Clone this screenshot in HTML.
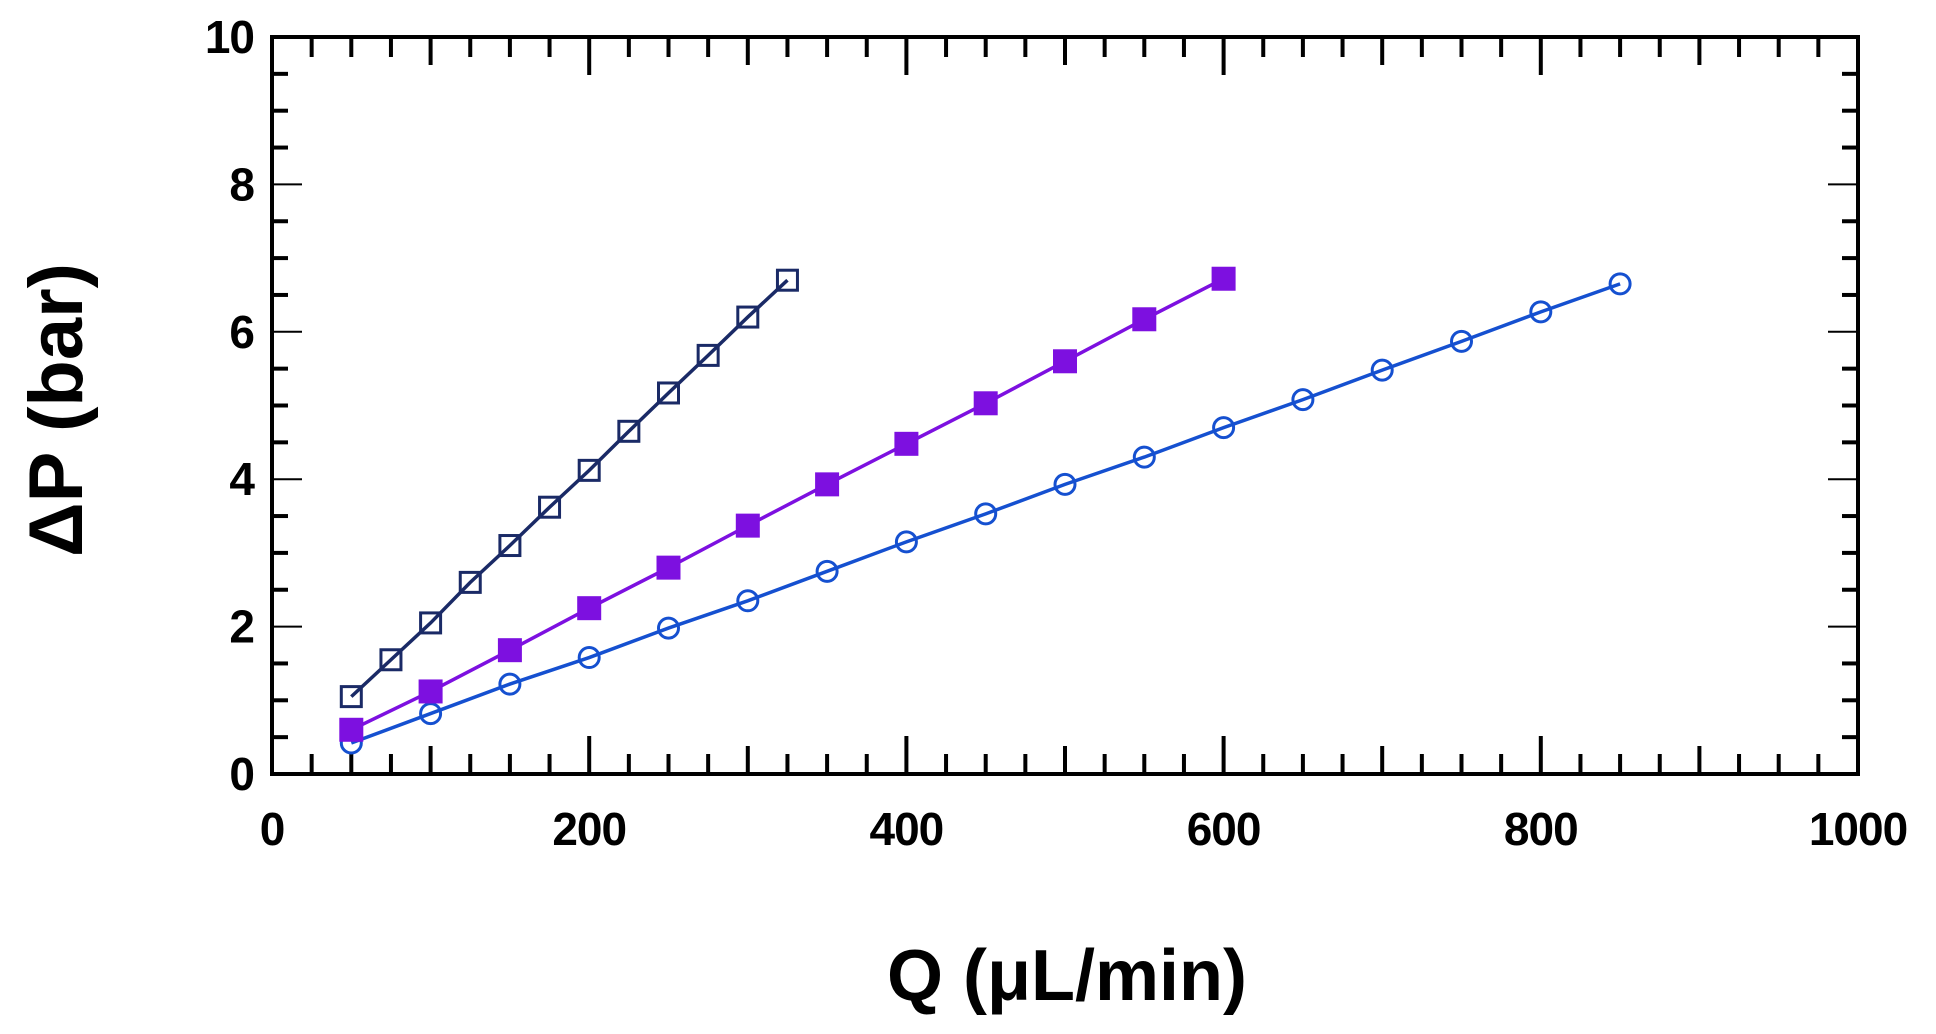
<!DOCTYPE html>
<html><head><meta charset="utf-8"><style>
body{margin:0;background:#fff;}
svg{display:block;font-family:"Liberation Sans",sans-serif;font-weight:bold;}
</style></head><body>
<svg id="chart" width="1936" height="1034" xmlns="http://www.w3.org/2000/svg"></svg>
<script>
const xTicks=[0,200,400,600,800,1000];
const yTicks=[0,2,4,6,8,10];
const q1=[50,75,100,125,150,175,200,225,250,275,300,325];
const p1=[1.05,1.55,2.05,2.6,3.1,3.62,4.12,4.65,5.17,5.68,6.2,6.7];
const q2=[50,100,150,200,250,300,350,400,450,500,550,600];
const p2=[0.6,1.12,1.68,2.25,2.8,3.37,3.93,4.48,5.03,5.6,6.17,6.72];
const q3=[50,100,150,200,250,300,350,400,450,500,550,600,650,700,750,800,850];
const p3=[0.42,0.82,1.22,1.58,1.98,2.35,2.75,3.15,3.53,3.93,4.3,4.7,5.08,5.48,5.87,6.27,6.65];
const L=272,R=1858,T=37,B=774;
const sx=v=>L+(v-0)/1000*(R-L), sy=v=>B-(v-0)/10*(B-T);
const svg=document.getElementById('chart');
const NS='http://www.w3.org/2000/svg';
function mk(tag,a,parent){const e=document.createElementNS(NS,tag);for(const k in a)e.setAttribute(k,a[k]);(parent||svg).appendChild(e);return e;}
const frame=mk('rect',{x:L,y:T,width:R-L,height:B-T,fill:'none',stroke:'#000','stroke-width':4});


const ticks=mk('g',{stroke:'#000','stroke-width':4});


for(let v=0;v<=1000;v+=25){const len=v%200===0?38:(v%100===0?28:20);const x=sx(v);
 mk('line',{x1:x,y1:B,x2:x,y2:B-len},ticks);mk('line',{x1:x,y1:T,x2:x,y2:T+len},ticks);}
for(let v=0;v<=10;v+=0.5){const major=Math.abs(v%2)<1e-6;const len=major?30:16;const y=sy(v);
 mk('line',{x1:L,y1:y,x2:L+len,y2:y,'stroke-width':major?2:4},ticks);mk('line',{x1:R,y1:y,x2:R-len,y2:y,'stroke-width':major?2:4},ticks);}
xTicks.forEach(v=>{const t=mk('text',{x:sx(v),y:845,'font-size':46,'letter-spacing':-1,'text-anchor':'middle'});t.textContent=v;
 
 });
yTicks.forEach(v=>{const t=mk('text',{x:L-18,y:sy(v)+16,'font-size':46,'letter-spacing':-1,'text-anchor':'end'});t.textContent=v;
 
 });
const xt=mk('text',{x:1067,y:1000,'font-size':72,'text-anchor':'middle'});xt.textContent='Q (μL/min)';


const yt=mk('text',{x:0,y:0,'font-size':76,'text-anchor':'middle',transform:'translate(82,410) rotate(-90)'});yt.textContent='ΔP (bar)';


function series(qs,ps,color,kind,name){
 const g=mk('g',{});
 
 
 mk('polyline',{points:qs.map((q,i)=>sx(q)+','+sy(ps[i])).join(' '),fill:'none',stroke:color,'stroke-width':3.5},g);
 qs.forEach((q,i)=>{const x=sx(q),y=sy(ps[i]);let m;
  if(kind==='open-sq')m=mk('rect',{x:x-10,y:y-10,width:20,height:20,fill:'none',stroke:color,'stroke-width':3},g);
  else if(kind==='fill-sq')m=mk('rect',{x:x-12,y:y-12,width:24,height:24,fill:color},g);
  else m=mk('circle',{cx:x,cy:y,r:10,fill:'none',stroke:color,'stroke-width':3},g);
  
  });
}
series(q3,p3,'#1550d0','circle','series-circles');
series(q2,p2,'#7d10e0','fill-sq','series-filled-squares');
series(q1,p1,'#1a2a66','open-sq','series-open-squares');
</script>
</body></html>
